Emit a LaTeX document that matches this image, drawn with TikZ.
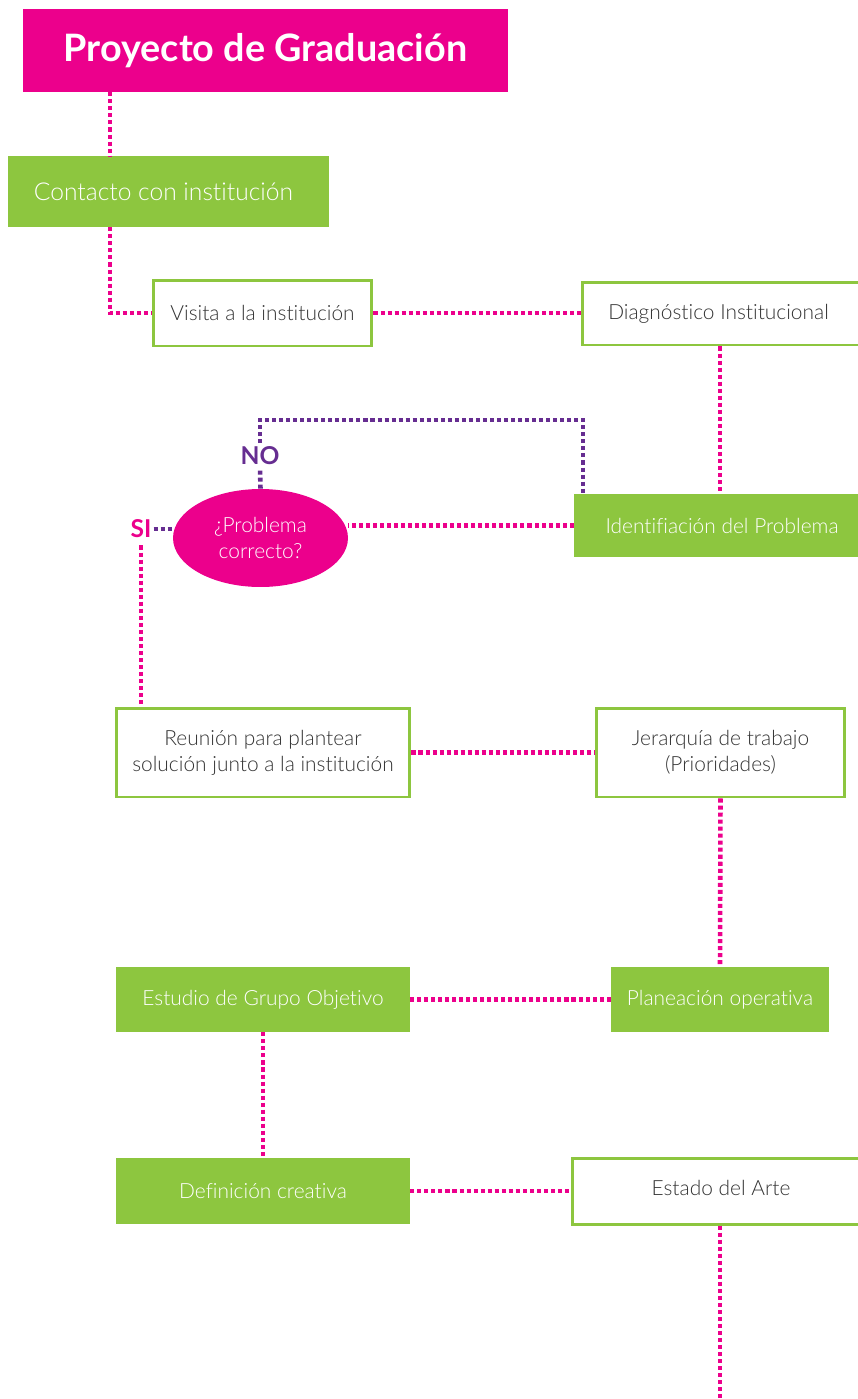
\documentclass[tikz,border=0pt]{standalone}
\usepackage{fontspec}
\setmainfont{Lato}
\newfontfamily\ligera[Ligatures=NoCommon]{Lato Light}
\usetikzlibrary{shapes.geometric}

\definecolor{rosa}{HTML}{EC008C}
\definecolor{verde}{HTML}{8DC63F}
\definecolor{morado}{HTML}{662D91}
\definecolor{gristexto}{HTML}{333333}

\tikzset{
  caja/.style={draw=verde, line width=1.7pt, fill=white, inner sep=0pt,
    text=gristexto, align=center, font=\ligera\fontsize{11.9}{14.7}\selectfont},
  cajaverde/.style={fill=verde, inner sep=0pt, text=white, align=center,
    font=\ligera\fontsize{11.9}{14.7}\selectfont},
  puntos/.style={draw=rosa, line width=2.6pt, dash pattern=on 2.3pt off 1.7pt},
  puntosmorado/.style={puntos, draw=morado},
}

\begin{document}
\begin{tikzpicture}[x=0.02cm, y=-0.02cm]
    \useasboundingbox (0,0) rectangle (858,1399);
    % titulo
    \node[fill=rosa, text=white, minimum width=9.7cm, minimum height=1.66cm,
      font=\bfseries\fontsize{21.5}{24}\selectfont] (titulo) at (265.5,50.5) {Proyecto de Graduación};
    % columna izquierda
    \node[cajaverde, minimum width=6.42cm, minimum height=1.42cm,
      font=\ligera\fontsize{14}{16}\selectfont] (contacto) at (168.5,191.5) {Contacto con institución\hspace*{0.2cm}};
    \node[caja, minimum width=4.38cm, minimum height=1.32cm] (visita) at (262.5,313) {Visita a la institución};
    % columna derecha (sale del borde)
    \node[caja, minimum width=5.76cm, minimum height=1.26cm] (diagnostico) at (726,313.5) {Diagnóstico Institucional\hspace*{0.3cm}};
    \node[cajaverde, minimum width=5.92cm, minimum height=1.26cm] (identif) at (722,525.5) {Identifiación del Problema};
    % decision
    \node[ellipse, fill=rosa, text=white, inner sep=0pt, minimum width=3.5cm, minimum height=1.96cm,
      align=center, font=\ligera\fontsize{11.9}{14.7}\selectfont] (elipse) at (260.5,538) {¿Problema\\correcto?};
    \node[text=morado, font=\bfseries\fontsize{14}{16}\selectfont, fill=white, inner sep=2pt] (no) at (260,456) {NO};
    \node[text=rosa, font=\bfseries\fontsize{14}{16}\selectfont, inner xsep=1pt, inner ysep=4pt] (si) at (141,529) {SI};
    \coordinate (giro) at (583,420);
    \coordinate (eje) at (720,0);
    \coordinate (fin) at (720,1399);
    % cajas de abajo
    \node[caja, minimum width=5.88cm, minimum height=1.78cm] (reunion) at (263,752.5) {Reunión para plantear\\solución junto a la institución};
    \node[caja, minimum width=4.98cm, minimum height=1.78cm] (jerarquia) at (720.5,752.5) {Jerarquía de trabajo\\(Prioridades)};
    \node[cajaverde, minimum width=4.36cm, minimum height=1.3cm] (planeacion) at (720,999.5) {Planeación operativa};
    \node[cajaverde, minimum width=5.88cm, minimum height=1.3cm] (estudio) at (263,999.5) {Estudio de Grupo Objetivo};
    \node[cajaverde, minimum width=5.88cm, minimum height=1.32cm] (definicion) at (263,1191) {Definición creativa};
    \node[caja, minimum width=5.96cm, minimum height=1.32cm] (estado) at (721,1191) {\raisebox{3pt}{Estado del Arte}};

    % conectores
    \coordinate (bajada) at (110,313);
    \draw[puntos] (titulo.south -| bajada) -- (contacto.north -| bajada);
    \draw[puntos] (contacto.south -| bajada) |- (visita.west);
    \draw[puntos] (visita.east) -- (visita.east -| diagnostico.west);
    \draw[puntos] (diagnostico.south -| eje) -- (identif.north -| eje);
    \draw[puntos] (identif.west) -- (identif.west -| elipse.east);
    \draw[puntosmorado] (elipse.north) -- (no.south);
    \draw[puntosmorado] (no.north) |- (giro) -- (giro |- identif.north);
    \draw[puntosmorado] (si.east) -- (si.east -| elipse.west);
    \draw[puntos] (si.south) -- (si.south |- reunion.north);
    \draw[puntos] (reunion.east) -- (jerarquia.west);
    \draw[puntos] (jerarquia.south) -- (planeacion.north);
    \draw[puntos] (planeacion.west) -- (estudio.east);
    \draw[puntos] (estudio.south) -- (definicion.north);
    \draw[puntos] (definicion.east) -- (estado.west);
    \draw[puntos] (estado.south -| eje) -- (fin);
\end{tikzpicture}
\end{document}
